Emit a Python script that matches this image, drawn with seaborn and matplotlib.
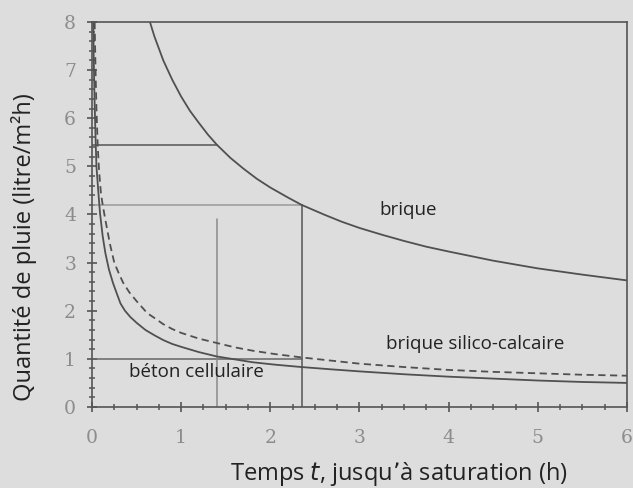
import numpy as np
import pandas as pd
import matplotlib
matplotlib.use("Agg")
import matplotlib.pyplot as plt
import seaborn as sns

# values
t_brique = [0.65, 0.7, 0.75, 0.8, 0.9, 1.0, 1.1, 1.2, 1.3, 1.4, 1.55, 1.7, 1.85, 2.0, 2.2, 2.35,
            2.6, 2.8, 3.0, 3.25, 3.5, 3.75, 4.0, 4.5, 5.0, 5.5, 6.0]
q_brique = [8.0, 7.7, 7.45, 7.2, 6.8, 6.45, 6.15, 5.9, 5.66, 5.45, 5.18, 4.95, 4.74, 4.56, 4.35, 4.2,
            4.0, 3.85, 3.72, 3.58, 3.45, 3.33, 3.23, 3.04, 2.88, 2.75, 2.63]

t_silico = [0.03, 0.04, 0.05, 0.065, 0.08, 0.1, 0.12, 0.15, 0.2, 0.25, 0.3, 0.35, 0.42, 0.5, 0.62,
            0.7, 0.8, 0.9, 1.0, 1.2, 1.4, 1.6, 1.8, 2.05, 2.35, 2.7, 3.0, 3.5, 4.0, 4.5, 5.0, 5.5, 6.0]
q_silico = [8.0, 7.0, 6.2, 5.4, 4.9, 4.45, 4.2, 3.89, 3.4, 3.0, 2.78, 2.58, 2.38, 2.2, 1.95,
            1.85, 1.72, 1.62, 1.54, 1.42, 1.33, 1.24, 1.17, 1.1, 1.03, 0.96, 0.9, 0.83, 0.77, 0.73, 0.7, 0.67, 0.65]

t_beton = [0.015, 0.02, 0.03, 0.04, 0.05, 0.07, 0.09, 0.12, 0.15, 0.19, 0.235, 0.28, 0.32, 0.37, 0.43,
           0.5, 0.6, 0.7, 0.8, 0.9, 1.0, 1.2, 1.4, 1.6, 1.8, 2.05, 2.35, 2.7, 3.0, 3.5, 4.0, 4.5, 5.0, 5.5, 6.0]
q_beton = [8.0, 7.2, 6.3, 5.6, 5.0, 4.5, 4.03, 3.55, 3.2, 2.86, 2.58, 2.35, 2.15, 2.0, 1.87,
           1.75, 1.6, 1.49, 1.39, 1.31, 1.25, 1.14, 1.05, 0.99, 0.93, 0.88, 0.83, 0.78, 0.74, 0.68, 0.63, 0.59, 0.55, 0.52, 0.5]

# guide lines
guides_x = [[0, 1.4], [0, 2.35], [0, 2.35], [1.4, 1.4], [2.35, 2.35]]
guides_y = [[5.45, 5.45], [4.2, 4.2], [1.0, 1.0], [0, 3.9], [0, 4.2]]
guides_c = ["#555555", "#9a9a9a", "#666666", "#8a8a8a", "#555555"]

labels = ["brique", "brique silico-calcaire", "béton cellulaire"]
label_pos = [(3.22, 4.1), (3.3, 1.31), (0.41, 0.73)]

bg = "#dddddd"
sns.set_style("white")
plt.rcParams["font.family"] = ["Open Sans", "DejaVu Sans"]

fig = plt.figure(figsize=(6.33, 4.88), dpi=100, facecolor=bg)
ax = fig.add_axes([0.1453, 0.166, 0.8452, 0.789])
ax.set_facecolor(bg)

for gx, gy, gc in zip(guides_x, guides_y, guides_c):
    ax.plot(gx, gy, color=gc, lw=1.1)

df_b = pd.DataFrame({"t": t_brique, "q": q_brique})
df_s = pd.DataFrame({"t": t_silico, "q": q_silico})
df_c = pd.DataFrame({"t": t_beton, "q": q_beton})
sns.lineplot(data=df_b, x="t", y="q", ax=ax, color="#505050", lw=1.3)
sns.lineplot(data=df_s, x="t", y="q", ax=ax, color="#505050", lw=1.3, linestyle=(0, (4, 2.5)))
sns.lineplot(data=df_c, x="t", y="q", ax=ax, color="#505050", lw=1.3)

for txt, (px, py) in zip(labels, label_pos):
    ax.text(px, py, txt, fontsize=13.5, color="#222222", va="center", ha="left")

ax.set_xlim(0, 6)
ax.set_ylim(0, 8)
ax.set_xticks(range(0, 7))
ax.set_yticks(range(0, 9))
ax.set_xticks(np.arange(0, 6.01, 0.25), minor=True)
ax.set_yticks(np.arange(0, 8.01, 0.2), minor=True)
ax.tick_params(which="both", bottom=True, left=True)
ax.tick_params(which="major", direction="inout", length=7, width=1.2, color="#555555",
               labelcolor="#8c8c8c", labelsize=13.5)
ax.tick_params(axis="x", which="major", pad=12)
ax.tick_params(axis="y", which="major", pad=8)
ax.tick_params(which="minor", direction="inout", length=4, width=1.1, color="#555555")
for lab in ax.get_xticklabels() + ax.get_yticklabels():
    lab.set_family("DejaVu Serif")
for sp in ax.spines.values():
    sp.set_color("#555555")
    sp.set_linewidth(1.2)

ax.set_xlabel("Temps $\\mathit{t}$, jusqu’à saturation (h)", fontsize=17, color="#222222")
ax.set_ylabel("Quantité de pluie (litre/m²h)", fontsize=17, color="#222222")
ax.xaxis.set_label_coords(0.574, -0.137)
ax.yaxis.set_label_coords(-0.103, 0.415)

fig.savefig("out.png", dpi=100, facecolor=bg)
